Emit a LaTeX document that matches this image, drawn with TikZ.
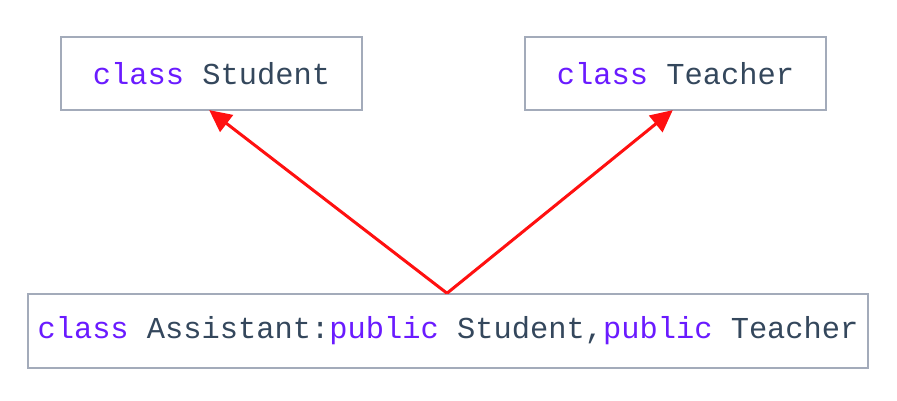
\documentclass[tikz,border=0pt]{standalone}
\usepackage{fontspec}
\setmonofont{Liberation Mono}
\usetikzlibrary{arrows.meta}
\definecolor{kw}{HTML}{6A1BFF}
\definecolor{txt}{HTML}{34475C}
\definecolor{bd}{HTML}{A3ABBA}
\definecolor{arr}{HTML}{FF1010}
\tikzset{
  classbox/.style={draw=bd, line width=1.5pt, fill=white, inner sep=0pt, font=\ttfamily\fontsize{30.4}{30.4}\selectfont, text=txt},
  inherit/.style={draw=arr, line width=3pt, -{Triangle[length=22pt,width=21pt]}, shorten >=-1pt}
}
\newcommand{\kwd}[1]{\textcolor{kw}{#1}}
\begin{document}
\begin{tikzpicture}[x=1pt,y=1pt]
\useasboundingbox (0,0) rectangle (897,401);
\node[classbox, minimum width=301pt, minimum height=73pt] (student) at (211.5,327.5) {\kwd{class} Student};
\node[classbox, minimum width=301pt, minimum height=73pt] (teacher) at (675.5,327.5) {\kwd{class} Teacher};
\node[classbox, minimum width=840pt, minimum height=74pt] (assistant) at (448,70) {\raisebox{-2pt}{\kwd{class} Assistant:\kwd{public} Student,\kwd{public} Teacher}};
\coordinate (apex) at ([xshift=-1pt]assistant.north);
\draw[inherit] (apex) -- ([xshift=-1.5pt]student.south);
\draw[inherit] (apex) -- ([xshift=-3.5pt]teacher.south);
\end{tikzpicture}
\end{document}
